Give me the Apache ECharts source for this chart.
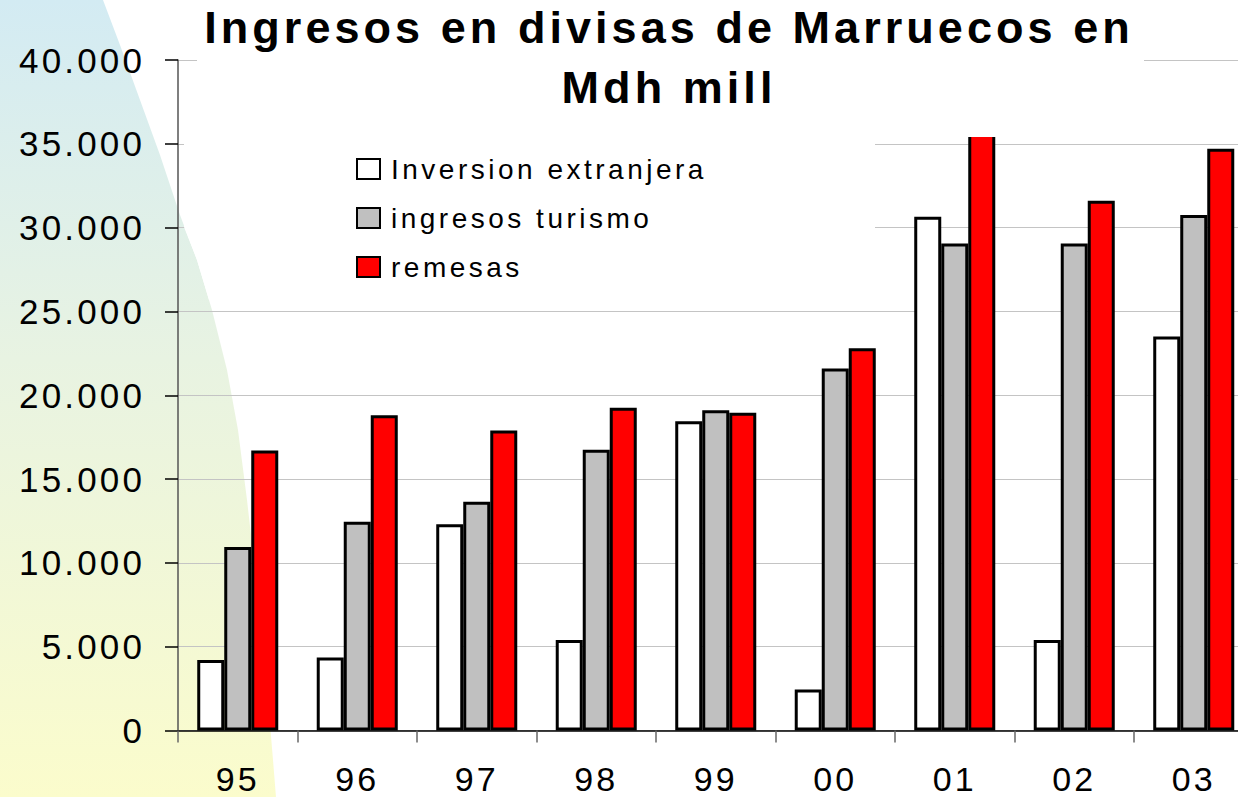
<!DOCTYPE html>
<html lang="es">
<head>
    <meta charset="UTF-8">
    <title>Ingresos en divisas de Marruecos</title>
    <script src="https://cdn.jsdelivr.net/npm/echarts@6.0.0/dist/echarts.min.js"></script>
    <style>
        html, body { margin: 0; padding: 0; background: #fff; }
        #main { width: 1238px; height: 797px; }
        /* the original slide uses expanded character spacing */
        #main text { letter-spacing: 0.09em; }
        #main text[style*="28px"] { letter-spacing: 0.125em; }
    </style>
</head>
<body>
    <div id="main"></div>
    <script type="text/javascript">
        // datos (Mdh mill)
        var years = ['95', '96', '97', '98', '99', '00', '01', '02', '03'];
        var inversion = [4200, 4350, 12300, 5400, 18450, 2450, 30650, 5400, 23500];
        var turismo = [10950, 12450, 13650, 16750, 19100, 21600, 29050, 29050, 30750];
        var remesas = [16700, 18800, 17900, 19250, 18950, 22800, 36900, 31600, 34700];
        var yTickLabels = ['0', '5.000', '10.000', '15.000', '20.000', '25.000', '30.000', '35.000', '40.000'];
        var seriesNames = ['Inversion extranjera', 'ingresos turismo', 'remesas'];

        var font = '"Liberation Sans", Arial, sans-serif';
        var myChart = echarts.init(document.getElementById('main'), null, { renderer: 'svg' });

        var barStyle = function (color) {
            return { color: color, borderColor: '#000', borderWidth: 3 };
        };

        var option = {
            animation: false,
            title: {
                text: 'Ingresos en divisas de Marruecos en\nMdh mill',
                left: 669,
                top: -3,
                padding: 0,
                textAlign: 'center',
                z: 8,
                textStyle: {
                    fontFamily: font,
                    fontWeight: 'bold',
                    fontSize: 45,
                    lineHeight: 60,
                    color: '#000'
                }
            },
            legend: {
                data: seriesNames,
                orient: 'vertical',
                left: 356,
                top: 155,
                padding: 0,
                itemWidth: 23,
                itemHeight: 20,
                itemGap: 21,
                icon: 'rect',
                selectedMode: false,
                z: 8,
                textStyle: {
                    fontFamily: font,
                    fontSize: 28,
                    lineHeight: 28,
                    color: '#000',
                    padding: [0, 0, 0, 6]
                }
            },
            graphic: {
                elements: [
                    {
                        // fondo degradado de la diapositiva
                        type: 'polygon',
                        z: -10,
                        silent: true,
                        shape: {
                            points: [[0, 0], [103, 0], [120, 45], [140, 100], [160, 155], [180, 215],
                                [197, 260], [212, 310], [227, 370], [238, 430], [247, 500], [255, 570],
                                [262, 640], [268, 700], [273, 760], [276, 797], [0, 797]]
                        },
                        style: {
                            fill: {
                                type: 'linear', x: 0, y: 0, x2: 0, y2: 1,
                                colorStops: [
                                    { offset: 0, color: '#d3ebf3' },
                                    { offset: 0.45, color: '#e8f3e2' },
                                    { offset: 1, color: '#fbfccc' }
                                ]
                            }
                        }
                    },
                    {
                        // caja blanca del título
                        type: 'rect',
                        z: 5,
                        silent: true,
                        shape: { x: 197, y: 0, width: 947, height: 137 },
                        style: { fill: '#fff' }
                    },
                    {
                        // caja blanca de la leyenda (su borde izquierdo sigue al fondo)
                        type: 'polygon',
                        z: 5,
                        silent: true,
                        shape: {
                            points: [[184, 137], [184, 227], [197, 260], [209, 300], [875, 300], [875, 137]]
                        },
                        style: { fill: '#fff' }
                    }
                ]
            },
            grid: {
                left: 178,
                right: -15.5,
                top: 60,
                bottom: 66.5,
                containLabel: false,
                outerBoundsMode: 'none'
            },
            xAxis: {
                type: 'category',
                data: years,
                boundaryGap: true,
                axisLine: { lineStyle: { color: '#000', width: 1.5 } },
                axisTick: { show: true, length: 12, lineStyle: { color: '#666', width: 1.5 } },
                axisLabel: {
                    margin: 35,
                    fontFamily: font,
                    fontSize: 34,
                    lineHeight: 26,
                    color: '#000'
                },
                splitLine: { show: false }
            },
            yAxis: {
                type: 'value',
                min: 0,
                max: 40000,
                interval: 5000,
                axisLine: { show: true, lineStyle: { color: '#555', width: 1.5 } },
                axisTick: { show: true, length: 13, lineStyle: { color: '#000', width: 1.5 } },
                axisLabel: {
                    margin: 33,
                    fontFamily: font,
                    fontSize: 35,
                    color: '#000',
                    formatter: function (v) { return yTickLabels[Math.round(v / 5000)]; }
                },
                splitLine: { show: true, lineStyle: { color: '#c4c4c4', width: 1 } }
            },
            series: [
                {
                    name: seriesNames[0],
                    type: 'bar',
                    barWidth: '22.6%',
                    barGap: '0%',
                    itemStyle: barStyle('#ffffff'),
                    data: inversion
                },
                {
                    name: seriesNames[1],
                    type: 'bar',
                    barWidth: '22.6%',
                    barGap: '0%',
                    itemStyle: barStyle('#c0c0c0'),
                    data: turismo
                },
                {
                    name: seriesNames[2],
                    type: 'bar',
                    barWidth: '22.6%',
                    barGap: '0%',
                    itemStyle: barStyle('#ff0000'),
                    data: remesas
                }
            ]
        };
        myChart.setOption(option);
    </script>
</body>
</html>
